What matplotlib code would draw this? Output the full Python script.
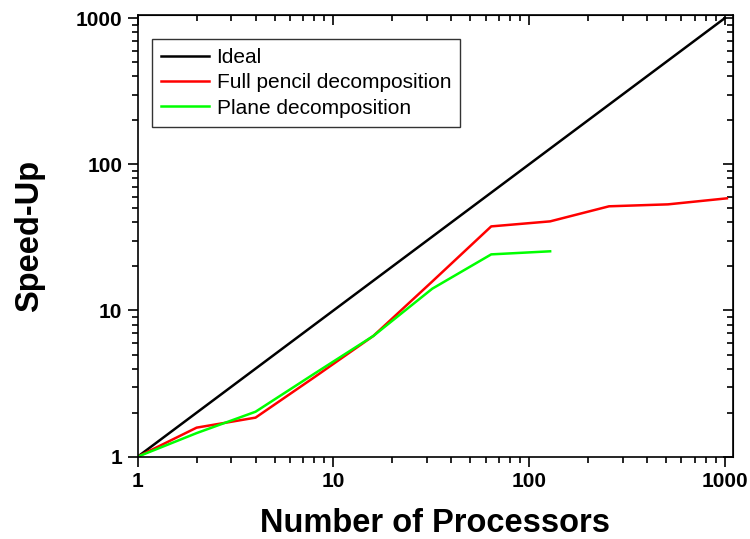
import matplotlib
matplotlib.use("Agg")
import matplotlib.pyplot as plt
from matplotlib.ticker import LogLocator, FixedLocator, FixedFormatter, NullFormatter

plt.rcParams['font.family'] = ['Liberation Sans', 'DejaVu Sans']

# processors
ideal_x = [1, 1000]
ideal_y = [1, 1000]

pencil_x = [1, 2, 4, 8, 16, 32, 64, 128, 256, 512, 1024]
pencil_y = [1, 1.58, 1.85, 3.5, 6.7, 15.8, 37.6, 40.7, 51.6, 53.2, 58.5]

plane_x = [1, 2, 4, 8, 16, 32, 64, 128]
plane_y = [1, 1.45, 2.03, 3.7, 6.7, 14.1, 24.2, 25.4]

tick_vals = [1, 10, 100, 1000]
tick_labels = ['1', '10', '100', '1000']

fig = plt.figure(figsize=(7.5, 5.39), dpi=100)
ax = fig.add_axes([0.1836, 0.1527, 0.9773 - 0.1836, 0.9722 - 0.1527])

ax.plot(ideal_x, ideal_y, color='black', lw=1.8, label='Ideal')
ax.plot(pencil_x, pencil_y, color='#ff0000', lw=1.8, label='Full pencil decomposition')
ax.plot(plane_x, plane_y, color='#00ff00', lw=1.8, label='Plane decomposition')

ax.set_xscale('log')
ax.set_yscale('log')
ax.set_xlim(1, 1100)
ax.set_ylim(1, 1050)

for axis in (ax.xaxis, ax.yaxis):
    axis.set_major_locator(FixedLocator(tick_vals))
    axis.set_major_formatter(FixedFormatter(tick_labels))
    axis.set_minor_locator(LogLocator(base=10, subs=range(2, 10)))
    axis.set_minor_formatter(NullFormatter())

ax.tick_params(which='both', direction='out', top=False, right=False, width=1.2)
ax.tick_params(which='major', length=7, labelsize=15, pad=4)
ax.tick_params(which='minor', length=4)
for lbl in ax.get_xticklabels() + ax.get_yticklabels():
    lbl.set_fontweight('bold')

# inward ticks on top and right
ax2 = ax.secondary_xaxis('top')
ax2.xaxis.set_major_locator(FixedLocator(tick_vals))
ax2.xaxis.set_minor_locator(LogLocator(base=10, subs=range(2, 10)))
ax2.xaxis.set_major_formatter(NullFormatter())
ax2.xaxis.set_minor_formatter(NullFormatter())
ax2.tick_params(which='both', direction='in', width=1.2)
ax2.tick_params(which='major', length=7)
ax2.tick_params(which='minor', length=4)
ax3 = ax.secondary_yaxis('right')
ax3.yaxis.set_major_locator(FixedLocator(tick_vals))
ax3.yaxis.set_minor_locator(LogLocator(base=10, subs=range(2, 10)))
ax3.yaxis.set_major_formatter(NullFormatter())
ax3.yaxis.set_minor_formatter(NullFormatter())
ax3.tick_params(which='both', direction='in', width=1.2)
ax3.tick_params(which='major', length=7)
ax3.tick_params(which='minor', length=4)

for s in ax.spines.values():
    s.set_linewidth(1.2)

ax.set_xlabel('Number of Processors', fontsize=23.5, fontweight='bold', labelpad=12)
ax.set_ylabel('Speed-Up', fontsize=23.5, fontweight='bold', labelpad=22)

leg = ax.legend(loc='upper left', bbox_to_anchor=(0.024, 0.946), fontsize=15,
                frameon=True, fancybox=False, edgecolor='black', handlelength=2.3,
                borderpad=0.45, labelspacing=0.3, handletextpad=0.35,
                borderaxespad=0)
leg.get_frame().set_linewidth(1.0)

fig.savefig('out.png', dpi=100)
